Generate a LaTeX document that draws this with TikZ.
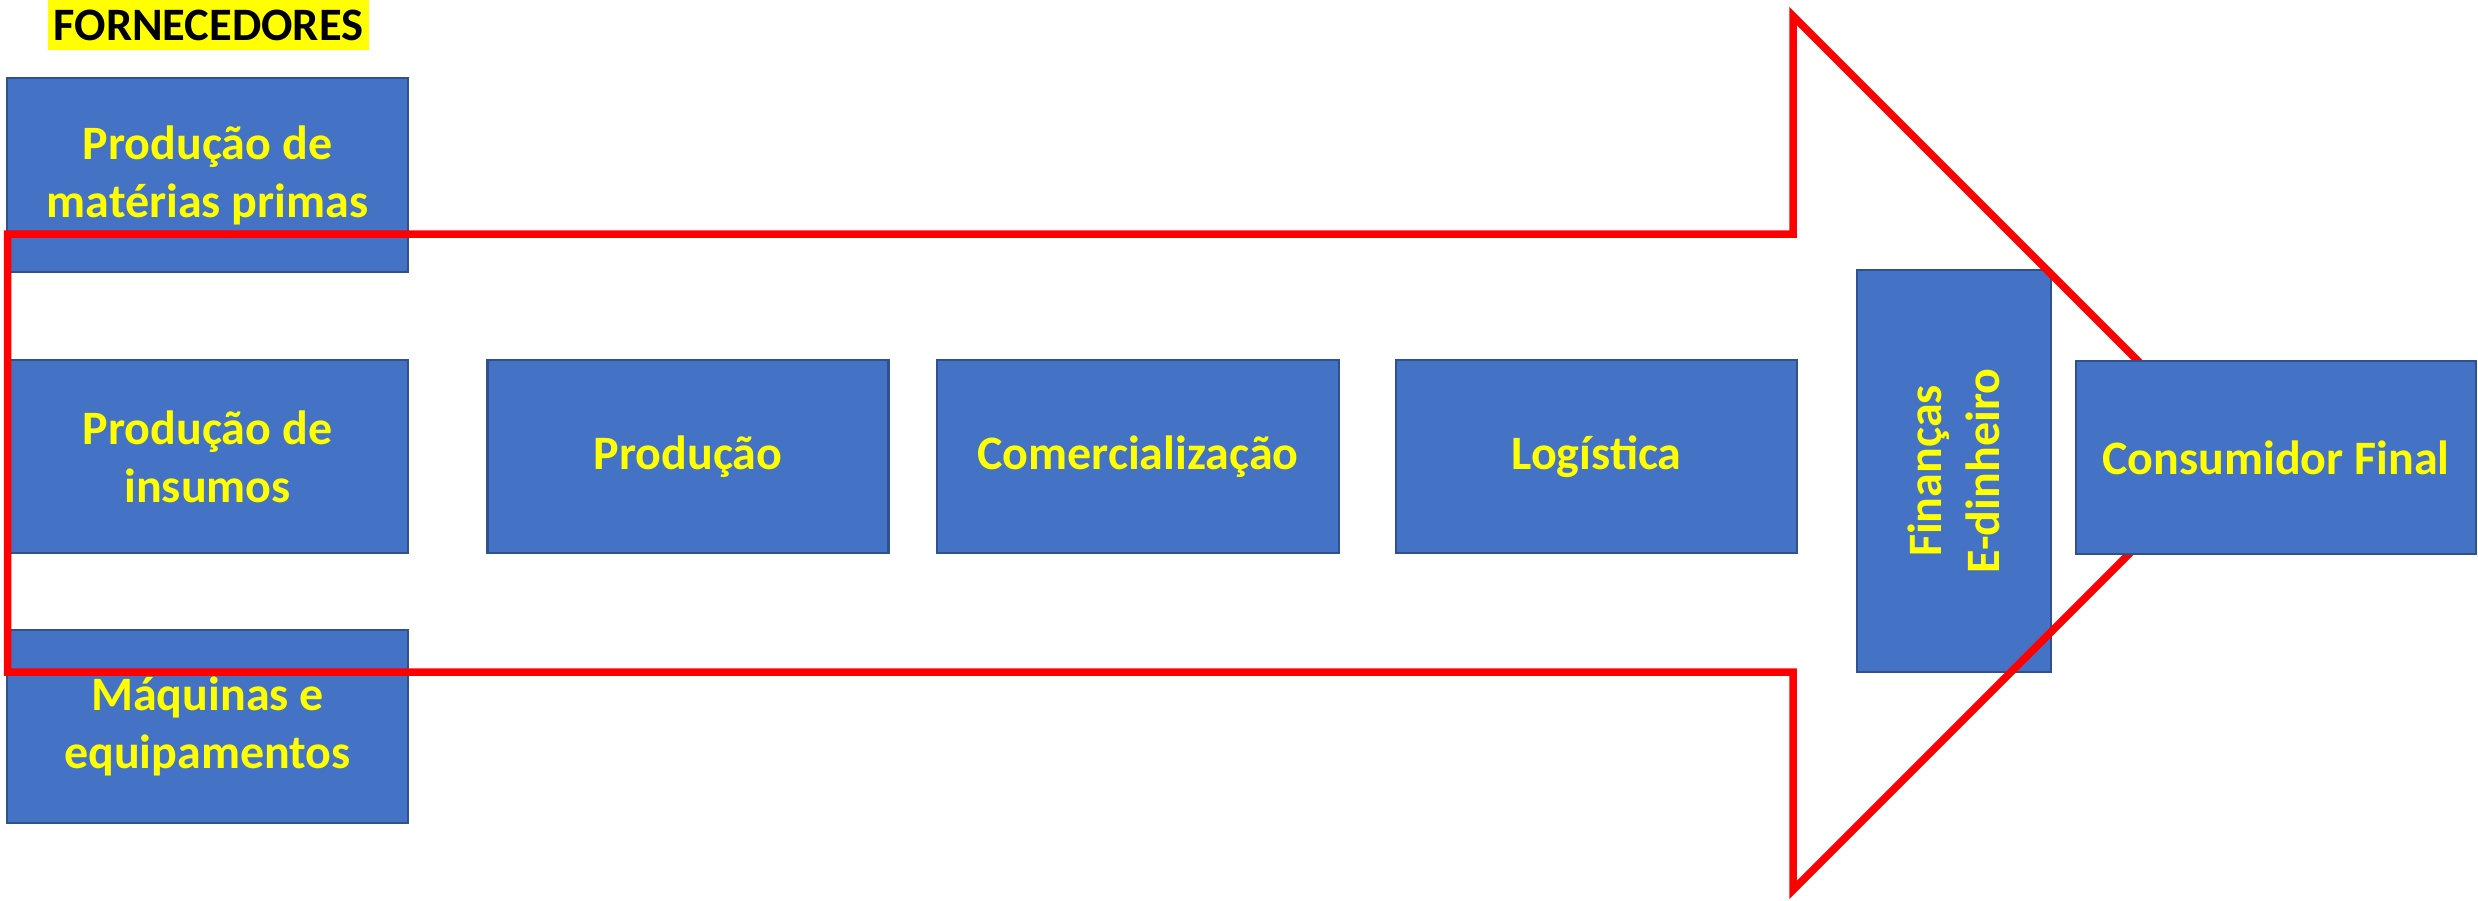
\documentclass[tikz,border=0pt]{standalone}
\usepackage{fontspec}
\setmainfont{Carlito}
\definecolor{boxfill}{HTML}{4472C4}
\definecolor{boxborder}{HTML}{2F528F}
\definecolor{txtyellow}{HTML}{FFFF00}
\definecolor{arrowred}{HTML}{FF0000}
\begin{document}
\begin{tikzpicture}[x=1pt,y=-1pt,
  bluebox/.style={draw=boxborder, line width=2.5pt, fill=boxfill, text=txtyellow,
    font=\bfseries\fontsize{48}{58}\selectfont, align=center, inner sep=0pt},
  arrowline/.style={draw=arrowred, line width=7.5pt, line join=miter},
  highlight/.style={fill=txtyellow, text=black, inner sep=0pt,
    font=\bfseries\fontsize{46.5}{52}\selectfont}]
\useasboundingbox (0,0) rectangle (2478,900);
\fill[white] (0,0) rectangle (2478,900);
% title
\node[highlight, minimum width=321pt, minimum height=50pt] (forn) at (208.5,25) {FORNECEDORES};
% supplier boxes
\node[bluebox, minimum width=401pt, minimum height=194pt] (mp) at (207.5,175) {Produção de\\matérias primas};
\node[bluebox, minimum width=401pt, minimum height=193pt] (ins) at (207.5,456.5) {Produção de\\insumos};
\node[bluebox, minimum width=401pt, minimum height=193pt] (maq) at (207.5,726.5) {Máquinas e\\equipamentos};
% chain boxes
\node[bluebox, minimum width=401pt, minimum height=193pt] (prod) at (688,456.5) {Produção};
\node[bluebox, minimum width=402pt, minimum height=193pt] (com) at (1138,456.5) {Comercialização};
\node[bluebox, minimum width=401pt, minimum height=193pt] (log) at (1596.5,456.5) {Logística};
\node[bluebox, minimum width=194pt, minimum height=402pt] (fin) at (1954,471) {};
\node[text=txtyellow, font=\bfseries\fontsize{48}{58}\selectfont, align=center, rotate=90, inner sep=0pt] (fintxt) at (fin.center) {Finanças\\E-dinheiro};
% big arrow
\coordinate (a1) at (7.5,234);
\coordinate (a2) at (1793,234);
\coordinate (a3) at (1793,16);
\coordinate (a4) at (2230,453);
\coordinate (a5) at (1793,890);
\coordinate (a6) at (1793,672);
\coordinate (a7) at (7.5,672);
\draw[arrowline] (a1) -- (a2) -- (a3) -- (a4) -- (a5) -- (a6) -- (a7) -- cycle;
% final consumer
\node[bluebox, minimum width=400pt, minimum height=193pt] (cons) at (2276,457.5) {Consumidor Final};
\end{tikzpicture}
\end{document}
